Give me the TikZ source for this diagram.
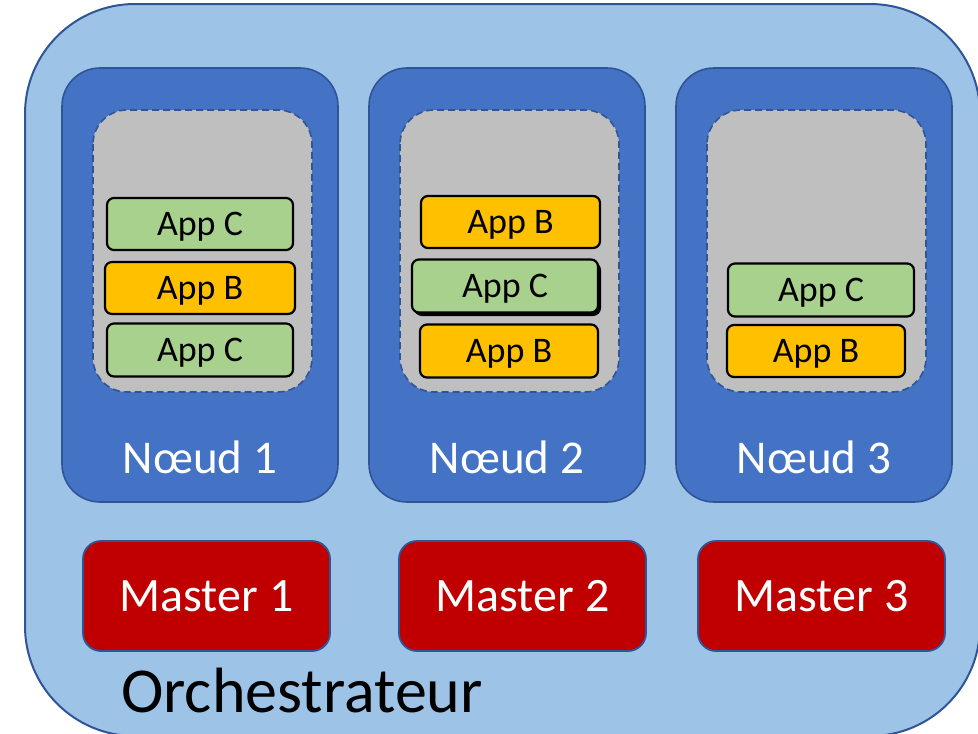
\documentclass[tikz,border=0pt]{standalone}
\usepackage{fontspec}
\setmainfont{Carlito}
\definecolor{orchfill}{HTML}{9DC3E6}
\definecolor{edgeblue}{HTML}{2F5597}
\definecolor{nodefill}{HTML}{4472C4}
\definecolor{podgray}{HTML}{BFBFBF}
\definecolor{appgreen}{HTML}{A9D18E}
\definecolor{appyellow}{HTML}{FFC000}
\definecolor{masterred}{HTML}{C00000}
\tikzset{
  orch/.style={draw=edgeblue, fill=orchfill, line width=2pt, rounded corners=110pt},
  worker/.style={draw=edgeblue, fill=nodefill, line width=1.6pt, rounded corners=38pt},
  pod/.style={draw=edgeblue, fill=podgray, line width=1.6pt, dash pattern=on 7pt off 4pt, rounded corners=34pt},
  appbox/.style={draw=black, line width=2.2pt, rounded corners=7pt, inner sep=0pt,
    font=\fontsize{36}{38}\selectfont, text=black, text height=23.2pt, text depth=0pt},
  appc/.style={appbox, fill=appgreen},
  appb/.style={appbox, fill=appyellow},
  master/.style={draw=edgeblue, fill=masterred, line width=1.8pt, rounded corners=18pt,
    minimum width=247pt, minimum height=110pt, inner sep=0pt,
    font=\fontsize{48}{50}\selectfont, text=white, text height=30.9pt, text depth=0pt},
  workerlabel/.style={font=\fontsize{47}{50}\selectfont, text=white, inner sep=0pt,
    text height=30.3pt, text depth=0pt}
}
\begin{document}
\begin{tikzpicture}[x=1pt, y=-1pt]
  \useasboundingbox (0,0) rectangle (978,734);
  \clip (0,0) rectangle (978,734);

  % orchestrator frame
  \draw[orch] (25,4) rectangle (980,736);

  % worker nodes
  \draw[worker] (62,68) rectangle (338,502);
  \draw[worker] (369,68) rectangle (645,502);
  \draw[worker] (676,68) rectangle (952,502);

  % pod areas
  \draw[pod] (93,110) rectangle (312,392);
  \draw[pod] (400,110) rectangle (619,392);
  \draw[pod] (707,110) rectangle (926,392);

  % applications on node 1
  \node[appc, minimum width=186pt, minimum height=52pt] (n1a1) at (200,224) {App C};
  \node[appb, minimum width=190pt, minimum height=52pt] (n1a2) at (200,288) {App B};
  \node[appc, minimum width=186pt, minimum height=53pt] (n1a3) at (200,350) {App C};

  % applications on node 2
  \node[appb, minimum width=179pt, minimum height=52pt] (n2a1) at (510.5,222) {App B};
  \draw[draw=black, fill=black, line width=2pt, rounded corners=7pt] (415,263) rectangle (600,315);
  \node[appc, minimum width=186pt, minimum height=53pt] (n2a2) at (505,286) {App C};
  \node[appb, minimum width=178pt, minimum height=53pt] (n2a3) at (509,351) {App B};

  % applications on node 3
  \node[appc, minimum width=186pt, minimum height=53pt] (n3a1) at (821,290) {App C};
  \node[appb, minimum width=178pt, minimum height=52pt] (n3a2) at (816,351) {App B};

  % node labels
  \node[workerlabel] (l1) at (200,458) {Nœud 1};
  \node[workerlabel] (l2) at (507,458) {Nœud 2};
  \node[workerlabel] (l3) at (814,458) {Nœud 3};

  % masters
  \node[master] (m1) at (206.5,596) {Master 1};
  \node[master] (m2) at (522.5,596) {Master 2};
  \node[master] (m3) at (821.5,596) {Master 3};

  % orchestrator label
  \node[font=\fontsize{64}{68}\selectfont, text=black, inner sep=0pt,
    text height=41.2pt, text depth=0pt] (orchlabel) at (302,692) {Orchestrateur};
\end{tikzpicture}
\end{document}
